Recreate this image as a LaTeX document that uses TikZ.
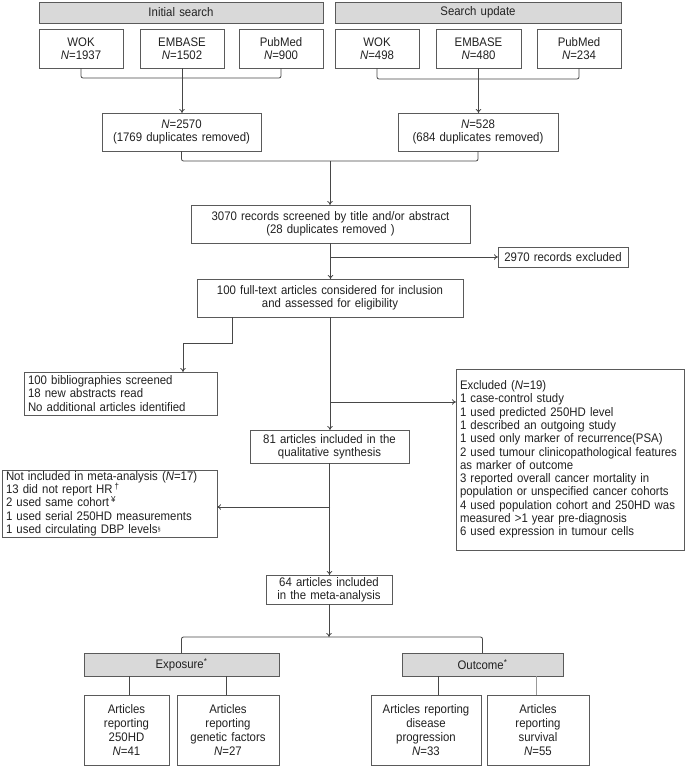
\documentclass[tikz,border=0pt]{standalone}
\usepackage{fontspec}
\setmainfont{Liberation Sans}[FakeStretch=0.92]
\usetikzlibrary{arrows.meta}
\definecolor{hdrgray}{HTML}{D9D9D9}
\definecolor{edgegray}{HTML}{5A5A5A}
\definecolor{txt}{HTML}{222222}
\tikzset{
  box/.style={draw=edgegray, line width=0.9pt, fill=white, inner xsep=4pt, inner ysep=1pt,
    outer sep=0pt, align=center, text=txt, font=\fontsize{12.4}{13.3}\selectfont},
  hdr/.style={box, fill=hdrgray},
  listbox/.style={box, align=left},
  tallbox/.style={box, font=\fontsize{12.4}{14}\selectfont},
  conn/.style={draw=black!72, line width=0.8pt},
  arr/.style={conn, -{To[length=4pt,width=5.5pt]}},
}
\newcommand\mybox[7]{%
  \pgfmathsetmacro\bw{#4-#2}\pgfmathsetmacro\bh{#5-#3}\pgfmathsetmacro\tw{#4-#2-8}%
  \node[#6, anchor=north west, minimum width=\bw pt, minimum height=\bh pt, text width=\tw pt] (#1) at (#2pt,-#3pt) {#7};}
\begin{document}
\begin{tikzpicture}[x=1pt,y=1pt]
\useasboundingbox (0,0) rectangle (685,-766);
% headers
\mybox{hdrL}{39}{2}{323}{23}{hdr}{Initial search}
\mybox{hdrR}{335}{2}{621}{23}{hdr}{Search update}
% databases
\mybox{wokL}{39}{29}{123}{68}{box}{WOK\\\textit{N}=1937}
\mybox{embL}{140}{29}{224}{68}{box}{EMBASE\\\textit{N}=1502}
\mybox{pubL}{239}{29}{323}{68}{box}{PubMed\\\textit{N}=900}
\mybox{wokR}{335}{29}{419}{68}{box}{WOK\\\textit{N}=498}
\mybox{embR}{436}{29}{521}{68}{box}{EMBASE\\\textit{N}=480}
\mybox{pubR}{537}{29}{621}{68}{box}{PubMed\\\textit{N}=234}
% totals
\mybox{nL}{102}{113}{261}{151}{box}{\textit{N}=2570\\(1769 duplicates removed)}
\mybox{nR}{398}{113}{558}{151}{box}{\textit{N}=528\\(684 duplicates removed)}
% screening
\mybox{scr}{191}{205}{470}{243}{box}{3070 records screened by title and/or abstract\\(28 duplicates removed )}
\mybox{ex1}{498}{247}{628}{267}{box}{2970 records excluded}
\mybox{full}{197}{279}{463}{317}{box}{100 full-text articles considered for inclusion\\and assessed for eligibility}
\mybox{bib}{24}{372}{217}{415}{listbox}{100 bibliographies screened\\18 new abstracts read\\No additional articles identified}
\mybox{excl}{456}{369}{684}{550}{listbox}{Excluded (\textit{N}=19)\\1 case-control study\\1 used predicted 250HD level\\1 described an outgoing study\\1 used only marker of recurrence(PSA)\\2 used tumour clinicopathological features\\as marker of outcome\\3 reported overall cancer mortality in\\population or unspecified cancer cohorts\\4 used population cohort and 250HD was\\measured >1 year pre-diagnosis\\6 used expression in tumour cells}
\mybox{q81}{250}{430}{409}{463}{box}{81 articles included in the\\qualitative synthesis}
\mybox{notinc}{2}{470}{217}{537}{listbox}{Not included in meta-analysis (\textit{N}=17)\\13 did not report HR\,\textsuperscript{†}\\2 used same cohort\,\textsuperscript{¥}\\1 used serial 250HD measurements\\1 used circulating DBP levels{\fontsize{6}{6}\selectfont\raisebox{2pt}{§}}}
\mybox{m64}{266}{575}{392}{604}{box}{64 articles included\\in the meta-analysis}
% categories
\mybox{expo}{84}{653}{279}{676}{hdr}{Exposure\textsuperscript{*}}
\mybox{outc}{402}{653}{563}{676}{hdr}{Outcome\textsuperscript{*}}
\mybox{b1}{84}{695}{169}{765}{tallbox}{Articles\\reporting\\250HD\\\textit{N}=41}
\mybox{b2}{177}{695}{279}{765}{tallbox}{Articles\\reporting\\genetic factors\\\textit{N}=27}
\mybox{b3}{371}{695}{481}{765}{tallbox}{Articles reporting\\disease\\progression\\\textit{N}=33}
\mybox{b4}{487}{695}{589}{765}{tallbox}{Articles\\reporting\\survival\\\textit{N}=55}
% connectors
\draw[conn, rounded corners=2pt] (wokL.south) -- ++(0,-10) -| (pubL.south);
\draw[arr] (embL.south) -- (embL.south |- nL.north);
\draw[conn, rounded corners=2pt] (wokR.south) -- ++(0,-11) -| (pubR.south);
\draw[arr] (embR.south) -- (embR.south |- nR.north);
\draw[conn, rounded corners=2pt] (nL.south) -- ++(0,-10) -| (nR.south);
\coordinate (j1) at (330,-161);
\draw[arr] (j1) -- (j1 |- scr.north);
\draw[arr] (scr.south) -- (scr.south |- full.north);
\coordinate (j2) at (330,-257);
\draw[arr] (j2) -- (j2 -| ex1.west);
\coordinate (j3) at (232,-317);
\coordinate (j4) at (183,-343);
\draw[arr] (j3) |- (j4) -- (j4 |- bib.north);
\draw[arr] (full.south) -- (full.south |- q81.north);
\coordinate (j5) at (330,-402);
\draw[arr] (j5) -- (j5 -| excl.west);
\draw[arr] (q81.south) -- (q81.south |- m64.north);
\coordinate (j6) at (330,-507);
\draw[arr] (j6) -- (j6 -| notinc.east);
\coordinate (j7) at (329,-637);
\draw[arr] (m64.south) -- (m64.south |- j7);
\draw[conn, rounded corners=2pt] (expo.north) -- ++(0,16) -| (outc.north);
\coordinate (l1) at (129,-695);
\coordinate (l2) at (226,-695);
\coordinate (l3) at (438,-695);
\coordinate (l4) at (536,-695);
\draw[conn] (l1) -- (l1 |- expo.south);
\draw[conn] (l2) -- (l2 |- expo.south);
\draw[conn] (l3) -- (l3 |- outc.south);
\draw[conn, draw=black!40] (l4) -- (l4 |- outc.south);
\end{tikzpicture}
\end{document}
